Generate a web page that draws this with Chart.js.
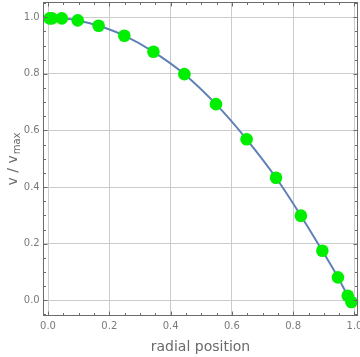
<!DOCTYPE html>
<html>
<head>
<meta charset="utf-8">
<script src="https://cdn.jsdelivr.net/npm/chart.js@4/dist/chart.umd.min.js"></script>
<style>
html,body{margin:0;padding:0;background:#fff;}
#wrap{width:360px;height:357px;position:relative;}
</style>
</head>
<body>
<div id="wrap"><canvas id="c" width="360" height="357"></canvas></div>
<script>
const radialPos = [0.005, 0.013, 0.045, 0.097, 0.165, 0.249, 0.344, 0.445, 0.548, 0.648, 0.744, 0.825, 0.895, 0.946, 0.978, 0.990];
const velRatio  = [0.996, 0.996, 0.996, 0.989, 0.970, 0.935, 0.878, 0.799, 0.693, 0.569, 0.433, 0.299, 0.175, 0.081, 0.016, -0.006];
const xTicks = [0.0, 0.2, 0.4, 0.6, 0.8, 1.0];
const yTicks = [0.0, 0.2, 0.4, 0.6, 0.8, 1.0];
const xMinor = [-0.05,0.05,0.1,0.15,0.25,0.3,0.35,0.45,0.5,0.55,0.65,0.7,0.75,0.85,0.9,0.95,1.05];
const yMinor = [-0.05,0.05,0.1,0.15,0.25,0.3,0.35,0.45,0.5,0.55,0.65,0.7,0.75,0.85,0.9,0.95,1.05];
const xTitle = 'radial position';

const FONT = "'DejaVu Sans', sans-serif";
const AREA = { left: 42.7, top: 2, right: 358.3, bottom: 316 };

const areaPlugin = {
  id: 'area',
  afterLayout(chart) {
    const a = chart.chartArea;
    a.left = AREA.left; a.top = AREA.top; a.right = AREA.right; a.bottom = AREA.bottom;
    a.width = a.right - a.left; a.height = a.bottom - a.top;
    const x = chart.scales.x, y = chart.scales.y;
    x.left = a.left; x.right = a.right; x.width = a.width; x.top = a.bottom; x.bottom = chart.height; x.height = x.bottom - x.top;
    y.left = 0; y.right = a.left; y.width = a.left; y.top = a.top; y.bottom = a.bottom; y.height = a.height;
    x.configure(); y.configure();
  }
};

const framePlugin = {
  id: 'frame',
  afterDraw(chart) {
    const ctx = chart.ctx, a = chart.chartArea;
    const xs = chart.scales.x, ys = chart.scales.y;
    ctx.save();
    ctx.strokeStyle = '#6b6b6b';
    ctx.lineWidth = 1;
    const L = Math.round(a.left)+0.5, R = Math.round(a.right)-0.5, T = Math.round(a.top)+0.5, B = Math.round(a.bottom)-0.5;
    ctx.strokeRect(L, T, R - L, B - T);
    function tx(v, len) {
      const p = Math.round(xs.getPixelForValue(v)) + 0.5;
      if (p < L || p > R) return;
      ctx.beginPath(); ctx.moveTo(p, B); ctx.lineTo(p, B - len); ctx.stroke();
      ctx.beginPath(); ctx.moveTo(p, T); ctx.lineTo(p, T + len); ctx.stroke();
    }
    function ty(v, len) {
      const p = Math.round(ys.getPixelForValue(v)) + 0.5;
      if (p < T || p > B) return;
      ctx.beginPath(); ctx.moveTo(L, p); ctx.lineTo(L + len, p); ctx.stroke();
      ctx.beginPath(); ctx.moveTo(R, p); ctx.lineTo(R - len, p); ctx.stroke();
    }
    xTicks.forEach(v => tx(v, 4));
    xMinor.forEach(v => tx(v, 2.5));
    yTicks.forEach(v => ty(v, 4));
    yMinor.forEach(v => ty(v, 2.5));

    ctx.fillStyle = '#6a6a6a';
    ctx.font = '14px ' + FONT;
    ctx.textAlign = 'center';
    ctx.textBaseline = 'middle';
    ctx.fillText(xTitle, (a.left + a.right) / 2, 347);

    ctx.translate(12, (a.top + a.bottom) / 2);
    ctx.rotate(-Math.PI / 2);
    ctx.textAlign = 'left';
    ctx.textBaseline = 'alphabetic';
    const main = 'v / v';
    ctx.font = '14px ' + FONT;
    const w1 = ctx.measureText(main).width;
    ctx.font = '10px ' + FONT;
    const w2 = ctx.measureText('max').width;
    const total = w1 + w2 + 1;
    ctx.font = '14px ' + FONT;
    ctx.fillText(main, -total / 2, 5);
    ctx.font = '10px ' + FONT;
    ctx.fillText('max', -total / 2 + w1 + 1, 8);
    ctx.restore();
  }
};

new Chart(document.getElementById('c'), {
  type: 'scatter',
  data: {
    datasets: [{
      data: radialPos.map((x, i) => ({x: x, y: velRatio[i]})),
      showLine: true,
      borderColor: '#5e81b5',
      borderWidth: 2,
      tension: 0.4,
      cubicInterpolationMode: 'monotone',
      pointRadius: 6.3,
      pointHoverRadius: 6.3,
      pointBackgroundColor: '#00ee00',
      pointBorderColor: '#00ee00',
      pointBorderWidth: 0,
      clip: false
    }]
  },
  options: {
    responsive: false,
    animation: false,
    events: [],
    layout: { padding: { top: 2, right: 1.7, left: 0, bottom: 0 } },
    plugins: { legend: { display: false }, tooltip: { enabled: false } },
    scales: {
      x: {
        type: 'linear',
        min: -0.0174,
        max: 1.0124,
        afterBuildTicks: s => { s.ticks = xTicks.map(v => ({value: v})); },
        afterFit: s => { s.height = 41; },
        grid: { color: '#cccccc', lineWidth: 1, drawTicks: false },
        border: { display: false },
        ticks: {
          padding: 4,
          color: '#7a7a7a',
          font: { family: FONT, size: 10 },
          maxRotation: 0,
          callback: v => v.toFixed(1)
        }
      },
      y: {
        type: 'linear',
        min: -0.0555,
        max: 1.054,
        afterBuildTicks: s => { s.ticks = yTicks.map(v => ({value: v})); },
        afterFit: s => { s.width = 42.7; },
        grid: { color: '#cccccc', lineWidth: 1, drawTicks: false },
        border: { display: false },
        ticks: {
          padding: 3,
          color: '#7a7a7a',
          font: { family: FONT, size: 10 },
          callback: v => v.toFixed(1)
        }
      }
    }
  },
  plugins: [areaPlugin, framePlugin]
});
</script>
</body>
</html>
